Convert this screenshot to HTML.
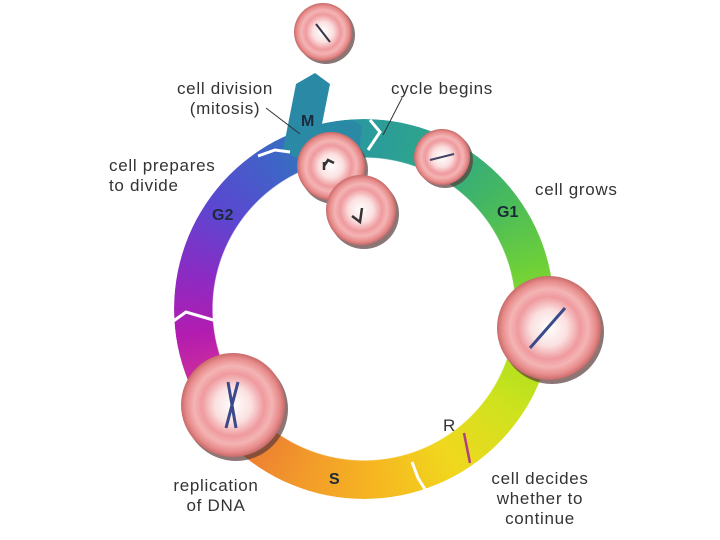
<!DOCTYPE html>
<html><head><meta charset="utf-8"><style>
html,body{margin:0;padding:0;background:#fff;}
body{width:720px;height:540px;position:relative;overflow:hidden;font-family:"Liberation Sans",sans-serif;}
.ring{position:absolute;left:174px;top:119px;width:380px;height:380px;border-radius:50%;
background:conic-gradient(from 0deg,#2a9a9c 0deg,#2fa68a 25deg,#45b860 50deg,#6ccf3a 75deg,#a2e01e 100deg,#cfe21e 125deg,#f0d81e 150deg,#f6b820 175deg,#f29a2a 200deg,#ec7a34 222deg,#d0309a 245deg,#b21cb0 262deg,#8a2cc4 282deg,#5a48d0 305deg,#3d66c6 330deg,#2a86ae 350deg,#2a9a9c 360deg);
-webkit-mask:radial-gradient(circle,transparent 151px,#000 152px);mask:radial-gradient(circle,transparent 151px,#000 152px);}
.t{position:absolute;font-size:17px;letter-spacing:0.7px;color:#333;line-height:20px;text-align:center;white-space:nowrap;}
.b{position:absolute;font-size:16px;font-weight:bold;color:#1a2a3a;}
</style></head><body>
<div class="ring"></div>
<svg width="720" height="540" style="position:absolute;left:0;top:0">
<defs>
<radialGradient id="cg" cx="50%" cy="50%" r="50%">
<stop offset="0" stop-color="#fff"/><stop offset="0.35" stop-color="#fbe0e0"/><stop offset="0.6" stop-color="#ef9a9e"/><stop offset="0.75" stop-color="#f4b4b4"/><stop offset="0.9" stop-color="#e88c8c"/><stop offset="1" stop-color="#c86a6a"/>
</radialGradient>
</defs>
<polygon points="283,150 296,84 315,73 330,84 322,124 352,120 362,126 358,160 300,160" fill="#2a8aa6"/>
<g stroke="#fff" stroke-width="3" fill="none">
<polyline points="370,120 380,132 368,150"/>
<polyline points="258,156 275,150 290,152"/>
<polyline points="172,322 186,312 220,322"/>
<polyline points="412,462 418,478 428,494"/>
</g>
<g stroke="#333" stroke-width="1">
<line x1="266" y1="108" x2="300" y2="134"/>
<line x1="402" y1="98" x2="383" y2="135"/>
</g>
<line x1="464" y1="433" x2="470" y2="463" stroke="#b04080" stroke-width="2.5"/>
<g>
<circle cx="326" cy="35" r="29" fill="#5a3a3a" opacity="0.7"/>
<circle cx="323" cy="32" r="29" fill="url(#cg)"/>
<line x1="316" y1="24" x2="330" y2="42" stroke="#334" stroke-width="2"/>
<circle cx="445" cy="160" r="28" fill="#5a3a3a" opacity="0.7"/>
<circle cx="442" cy="157" r="28" fill="url(#cg)"/>
<line x1="430" y1="160" x2="454" y2="154" stroke="#446" stroke-width="2"/>
<circle cx="552" cy="332" r="52" fill="#5a3a3a" opacity="0.7"/>
<circle cx="549" cy="328" r="52" fill="url(#cg)"/>
<line x1="530" y1="348" x2="565" y2="308" stroke="#3a4a8a" stroke-width="3"/>
<circle cx="236" cy="409" r="52" fill="#5a3a3a" opacity="0.7"/>
<circle cx="233" cy="405" r="52" fill="url(#cg)"/>
<path d="M238 382 L226 428 M228 382 L236 428" stroke="#3a4a8a" stroke-width="3" fill="none"/>
<circle cx="364" cy="214" r="35" fill="#5a3a3a" opacity="0.7"/>
<circle cx="334" cy="170" r="34" fill="#5a3a3a" opacity="0.7"/>
<circle cx="331" cy="166" r="34" fill="url(#cg)"/>
<circle cx="361" cy="210" r="35" fill="url(#cg)"/>
<path d="M324 166 L328 160 L334 163 M324 162 L324 170 M352 216 L360 222 L362 208" stroke="#333" stroke-width="2.5" fill="none"/>
</g>
</svg>
<div class="t" style="left:165px;top:79px;width:120px">cell division<br>(mitosis)</div>
<div class="t" style="left:382px;top:79px;width:120px">cycle begins</div>
<div class="t" style="left:109px;top:156px;text-align:left">cell prepares<br>to divide</div>
<div class="t" style="left:535px;top:180px">cell grows</div>
<div class="t" style="left:443px;top:416px">R</div>
<div class="t" style="left:156px;top:476px;width:120px">replication<br>of DNA</div>
<div class="t" style="left:480px;top:469px;width:120px">cell decides<br>whether to<br>continue</div>
<div class="b" style="left:301px;top:113px">M</div>
<div class="b" style="left:497px;top:204px">G1</div>
<div class="b" style="left:212px;top:207px">G2</div>
<div class="b" style="left:329px;top:471px">S</div>
</body></html>
